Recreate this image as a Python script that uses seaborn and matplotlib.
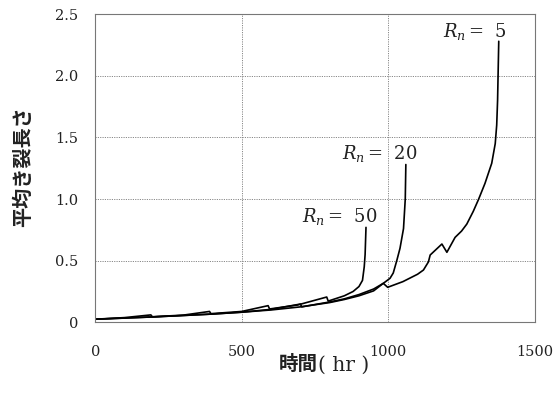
import numpy as np
import pandas as pd
import matplotlib
matplotlib.use("Agg")
import matplotlib.pyplot as plt
import seaborn as sns

# Mean crack length vs. time for three values of R_n
hours_r5 = [0, 100, 200, 300, 400, 500, 600, 700, 800, 850, 900, 950, 983, 998,
            1050, 1100, 1120, 1137, 1143, 1183, 1200, 1228, 1250, 1268, 1290,
            1308, 1330, 1353, 1365, 1370, 1373, 1377]
crack_r5 = [0.025, 0.034, 0.044, 0.055, 0.067, 0.082, 0.100, 0.125, 0.160, 0.185,
            0.215, 0.255, 0.316, 0.284, 0.330, 0.390, 0.424, 0.490, 0.546, 0.635,
            0.568, 0.689, 0.740, 0.797, 0.900, 0.997, 1.127, 1.290, 1.450, 1.600,
            1.800, 2.280]

hours_r20 = [0, 200, 400, 500, 600, 700, 705, 800, 850, 900, 950, 983, 1006,
             1017, 1029, 1040, 1052, 1058, 1060]
crack_r20 = [0.025, 0.044, 0.067, 0.082, 0.105, 0.148, 0.125, 0.165, 0.190,
             0.225, 0.270, 0.316, 0.357, 0.400, 0.500, 0.600, 0.760, 1.000, 1.280]

hours_r50 = [0, 100, 190, 195, 300, 390, 395, 500, 590, 595, 690, 790, 795, 850,
             880, 900, 912, 918, 921, 924]
crack_r50 = [0.025, 0.038, 0.060, 0.045, 0.058, 0.088, 0.070, 0.088, 0.135, 0.108,
             0.140, 0.205, 0.172, 0.215, 0.250, 0.290, 0.340, 0.450, 0.550, 0.770]

series_names = ["5", "20", "50"]
label_pos = {"5": (1187, 2.36), "20": (841, 1.37), "50": (706, 0.86)}

x_ticks = [0, 500, 1000, 1500]
y_ticks = [0, 0.5, 1.0, 1.5, 2.0, 2.5]
y_tick_labels = ["0", "0.5", "1.0", "1.5", "2.0", "2.5"]

frames = []
for name, hrs, vals in [("5", hours_r5, crack_r5),
                        ("20", hours_r20, crack_r20),
                        ("50", hours_r50, crack_r50)]:
    frames.append(pd.DataFrame({"hr": hrs, "len": vals, "Rn": name}))
df = pd.concat(frames, ignore_index=True)

sns.set_style("white")
plt.rcParams["font.family"] = ["DejaVu Serif"]
plt.rcParams["mathtext.fontset"] = "dejavuserif"

fig = plt.figure(figsize=(5.6, 3.94), dpi=100)
ax = fig.add_axes([0.170, 0.182, 0.785, 0.782])

sns.lineplot(data=df, x="hr", y="len", hue="Rn", units="Rn", estimator=None,
             sort=False, palette={n: "black" for n in series_names},
             linewidth=1.2, legend=False, ax=ax)

ax.set_xlim(0, 1500)
ax.set_ylim(0, 2.5)
ax.set_xticks(x_ticks)
ax.set_xticklabels([str(t) for t in x_ticks])
ax.set_yticks(y_ticks)
ax.set_yticklabels(y_tick_labels)
ax.tick_params(axis="both", labelsize=10.5, colors="#333333", length=3,
               direction="in", width=0.6)
ax.tick_params(axis="x", pad=16)
ax.tick_params(axis="y", pad=12)
for lbl in ax.get_xticklabels() + ax.get_yticklabels():
    lbl.set_color("#222222")

ax.grid(True, linestyle=(0, (1.2, 1.2)), color="#888888", linewidth=0.7)
for sp in ax.spines.values():
    sp.set_color("#777777")
    sp.set_linewidth(0.8)

for name in series_names:
    x0, y0 = label_pos[name]
    ax.text(x0, y0, r"$R_n\,$" + "=  " + name, fontsize=13, ha="left",
            va="center", color="#222222", family="DejaVu Serif")

ax.set_xlabel("")
ax.set_ylabel("")
fig.text(0.040, 0.576, "平均き裂長さ", rotation=90, ha="center", va="center",
         fontsize=14.5, fontweight="bold", color="#222222",
         family=["Noto Sans CJK JP", "DejaVu Sans"])
fig.text(0.568, 0.074, "時間", ha="right", va="center", fontsize=14,
         fontweight="bold", color="#222222",
         family=["Noto Sans CJK JP", "DejaVu Sans"])
fig.text(0.568, 0.074, "( hr )", ha="left", va="center", fontsize=14.5,
         color="#222222", family="DejaVu Serif")

fig.savefig("out.png", dpi=100)
